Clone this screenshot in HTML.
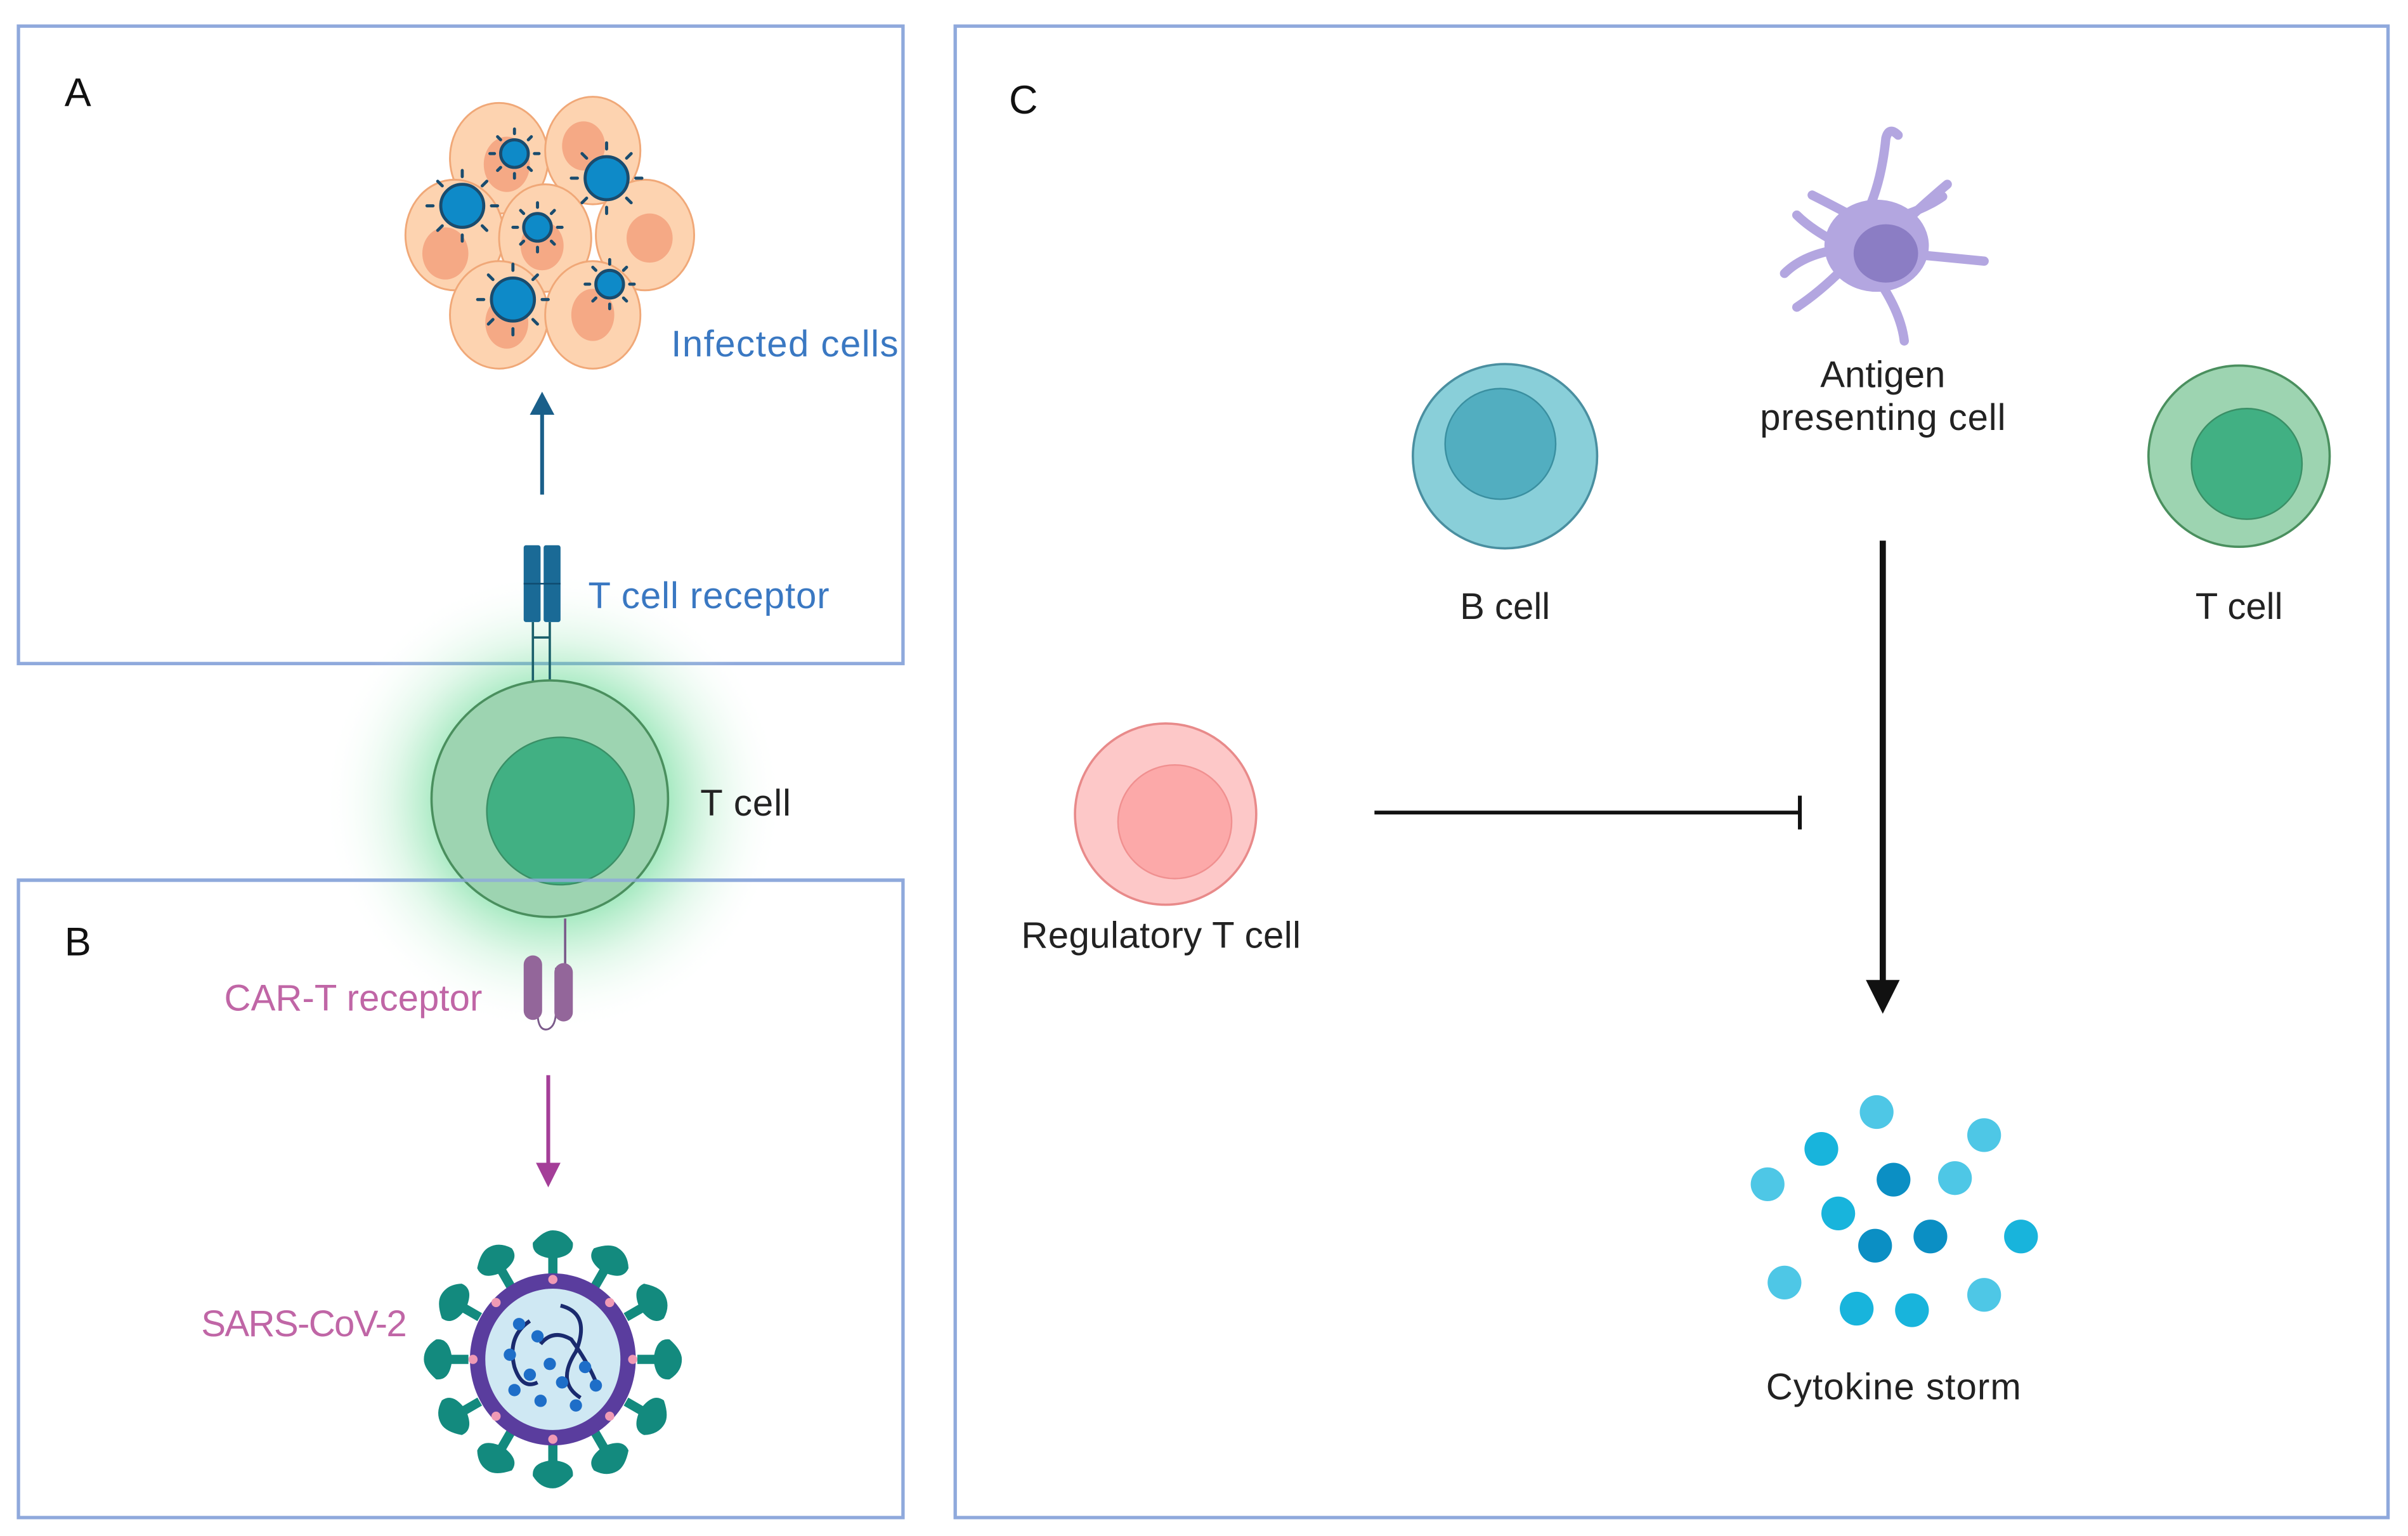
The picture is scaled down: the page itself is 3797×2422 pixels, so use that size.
<!DOCTYPE html>
<html><head><meta charset="utf-8"><style>
html,body{margin:0;padding:0;background:#fff}
svg{display:block}
text{font-family:"Liberation Sans",sans-serif}
</style></head><body>
<svg width="3797" height="2422" viewBox="0 0 1568 1000" preserveAspectRatio="none" xmlns="http://www.w3.org/2000/svg">
<defs>
<radialGradient id="glow" cx="0.5" cy="0.5" r="0.5">
<stop offset="0.45" stop-color="#3fd07a" stop-opacity="0.55"/>
<stop offset="0.7" stop-color="#6fdc98" stop-opacity="0.2"/>
<stop offset="1" stop-color="#ffffff" stop-opacity="0"/>
</radialGradient>
</defs>
<rect width="1568" height="1000" fill="#fff"/>
<rect x="12" y="17" width="576" height="415" fill="none" stroke="#8fa9dc" stroke-width="2.2"/>
<rect x="12" y="573" width="576" height="415" fill="none" stroke="#8fa9dc" stroke-width="2.2"/>
<rect x="622" y="17" width="933" height="971" fill="none" stroke="#8fa9dc" stroke-width="2.2"/>
<text x="42" y="69" font-size="26" fill="#111">A</text>
<text x="42" y="622" font-size="26" fill="#111">B</text>
<text x="657" y="74" font-size="26" fill="#111">C</text>

<g stroke="#f0a878" stroke-width="1.2" fill="#fdd3b0">
<ellipse cx="325" cy="103" rx="32" ry="36"/>
<ellipse cx="386" cy="98" rx="31" ry="35"/>
<ellipse cx="296" cy="153" rx="32" ry="36"/>
<ellipse cx="420" cy="153" rx="32" ry="36"/>
<ellipse cx="355" cy="155" rx="30" ry="35"/>
<ellipse cx="325" cy="205" rx="32" ry="35"/>
<ellipse cx="386" cy="205" rx="31" ry="35"/>
</g>
<g fill="#f5a985">
<ellipse cx="330" cy="107" rx="15" ry="18"/>
<ellipse cx="380" cy="95" rx="14" ry="16"/>
<ellipse cx="290" cy="165" rx="15" ry="17"/>
<ellipse cx="423" cy="155" rx="15" ry="16"/>
<ellipse cx="353" cy="160" rx="14" ry="16"/>
<ellipse cx="330" cy="210" rx="14" ry="17"/>
<ellipse cx="386" cy="205" rx="14" ry="17"/>
</g>
<g fill="#0e8ac8" stroke="#1a4c6e" stroke-width="2">
<circle cx="335" cy="100" r="9"/>
<circle cx="395" cy="116" r="14"/>
<circle cx="301" cy="134" r="14"/>
<circle cx="350" cy="148" r="9"/>
<circle cx="334" cy="195" r="14"/>
<circle cx="397" cy="185" r="9"/>
</g>
<g stroke="#1a4c6e" stroke-width="2" stroke-linecap="round">
<path d="M335 87v-3M335 113v3M322 100h-3M348 100h3M326 91l-2-2M344 109l2 2M344 91l2-2M326 109l-2 2"/>
<path d="M395 97v-4M395 135v4M376 116h-4M414 116h4M382 103l-3-3M408 129l3 3M408 103l3-3M382 129l-3 3"/>
<path d="M301 115v-4M301 153v4M282 134h-4M320 134h4M288 121l-3-3M314 147l3 3M314 121l3-3M288 147l-3 3"/>
<path d="M350 135v-3M350 161v3M337 148h-3M363 148h3M341 139l-2-2M359 157l2 2M359 139l2-2M341 157l-2 2"/>
<path d="M334 176v-4M334 214v4M315 195h-4M353 195h4M321 182l-3-3M347 208l3 3M347 182l3-3M321 208l-3 3"/>
<path d="M397 172v-3M397 198v3M384 185h-3M410 185h3M388 176l-2-2M406 194l2 2M406 176l2-2M388 194l-2 2"/>
</g>
<text x="437" y="232" font-size="24" fill="#3a78c2" textLength="148">Infected cells</text>

<line x1="353" y1="322" x2="353" y2="268" stroke="#1a5f8a" stroke-width="2.5"/>
<polygon points="345,270 361,270 353,255" fill="#1a5f8a"/>

<circle cx="360" cy="522" r="150" fill="url(#glow)"/>
<line x1="347" y1="405" x2="347" y2="448" stroke="#1a5f6a" stroke-width="1.5"/>
<line x1="358" y1="405" x2="358" y2="448" stroke="#1a5f6a" stroke-width="1.5"/>
<line x1="347" y1="415" x2="358" y2="415" stroke="#1a5f6a" stroke-width="1.5"/>
<rect x="341" y="355" width="11" height="50" rx="1.5" fill="#1a6a96"/>
<rect x="354" y="355" width="11" height="50" rx="1.5" fill="#1a6a96"/>
<line x1="341" y1="380" x2="365" y2="380" stroke="#0f4c70" stroke-width="1"/>
<text x="383" y="396" font-size="24" fill="#3a78c2" textLength="157">T cell receptor</text>
<circle cx="358" cy="520" r="77" fill="#9dd4b1" stroke="#4a8f5e" stroke-width="1.5"/>
<circle cx="365" cy="528" r="48" fill="#41b083" stroke="#3a8f66" stroke-width="1"/>
<text x="456" y="531" font-size="24" fill="#222" textLength="59">T cell</text>
<rect x="12" y="572" width="576" height="2.2" fill="#8fa9dc" opacity="0.8"/>

<line x1="368" y1="598" x2="368" y2="628" stroke="#7a5a8a" stroke-width="1.5"/>
<path d="M350 658 Q350 672 357 670 Q362 668 362 658 L362 630" fill="none" stroke="#7a5a8a" stroke-width="1.2"/>
<rect x="341" y="622" width="12" height="42" rx="6" fill="#93669a"/>
<rect x="361" y="627" width="12" height="38" rx="6" fill="#93669a"/>
<text x="146" y="658" font-size="24" fill="#c066a6" textLength="168">CAR-T receptor</text>
<line x1="357" y1="700" x2="357" y2="760" stroke="#a43e98" stroke-width="2.5"/>
<polygon points="349,757 365,757 357,773" fill="#a43e98"/>

<g fill="#138a7e">
<g transform="translate(360,885)">
<g id="sp"><path d="M-3 -55 L-3 -66 Q-14 -68 -13 -76 Q-6 -84 0 -84 Q8 -84 13 -76 Q14 -68 3 -66 L3 -55Z"/></g>
<use href="#sp" transform="rotate(30)"/><use href="#sp" transform="rotate(60)"/><use href="#sp" transform="rotate(90)"/>
<use href="#sp" transform="rotate(120)"/><use href="#sp" transform="rotate(150)"/><use href="#sp" transform="rotate(180)"/>
<use href="#sp" transform="rotate(210)"/><use href="#sp" transform="rotate(240)"/><use href="#sp" transform="rotate(270)"/>
<use href="#sp" transform="rotate(300)"/><use href="#sp" transform="rotate(330)"/>
</g></g>
<ellipse cx="360" cy="885" rx="54" ry="56" fill="#5a3d9e"/>
<ellipse cx="360" cy="885" rx="44" ry="46" fill="#cfe8f3"/>
<g fill="#f09ab5">
<circle cx="360" cy="833" r="3"/><circle cx="360" cy="937" r="3"/><circle cx="308" cy="885" r="3"/><circle cx="412" cy="885" r="3"/>
<circle cx="323" cy="848" r="3"/><circle cx="397" cy="848" r="3"/><circle cx="323" cy="922" r="3"/><circle cx="397" cy="922" r="3"/>
</g>
<g fill="none" stroke="#1a2a6e" stroke-width="2.5">
<path d="M345 860 Q330 870 335 890 Q340 905 350 900 M365 850 Q385 855 375 880 Q362 900 378 910 M352 875 Q360 865 372 872 Q385 890 390 905"/>
</g>
<g fill="#1e6ec8">
<circle cx="338" cy="862" r="4"/><circle cx="350" cy="870" r="4"/><circle cx="332" cy="882" r="4"/><circle cx="345" cy="895" r="4"/>
<circle cx="358" cy="888" r="4"/><circle cx="366" cy="900" r="4"/><circle cx="352" cy="912" r="4"/><circle cx="381" cy="890" r="4"/><circle cx="388" cy="902" r="4"/><circle cx="375" cy="915" r="4"/><circle cx="335" cy="905" r="4"/>
</g>
<text x="131" y="870" font-size="24" fill="#c066a6" textLength="134">SARS-CoV-2</text>

<g stroke="#b3a6e0" stroke-width="6" stroke-linecap="round" fill="none">
<path d="M1215 140 Q1225 120 1228 90 Q1230 82 1236 88"/>
<path d="M1235 150 Q1250 135 1268 120"/>
<path d="M1200 160 Q1180 150 1170 140"/>
<path d="M1200 162 Q1175 165 1162 178"/>
<path d="M1200 175 Q1185 190 1170 200"/>
<path d="M1225 185 Q1238 205 1240 222"/>
<path d="M1240 165 Q1270 168 1292 170"/>
<path d="M1240 140 Q1255 135 1265 128"/>
<path d="M1205 140 Q1190 132 1180 127"/>
</g>
<ellipse cx="1222" cy="160" rx="34" ry="30" fill="#b3a6e0"/>
<ellipse cx="1228" cy="165" rx="21" ry="19" fill="#8b7dc4"/>
<text x="1226" y="252" font-size="24" fill="#222" text-anchor="middle">Antigen</text>
<text x="1226" y="280" font-size="24" fill="#222" text-anchor="middle" textLength="160">presenting cell</text>

<circle cx="980" cy="297" r="60" fill="#89cfd9" stroke="#4a8fa0" stroke-width="1.5"/>
<circle cx="977" cy="289" r="36" fill="#52aec0" stroke="#3a8fa0" stroke-width="1"/>
<text x="980" y="403" font-size="24" fill="#222" text-anchor="middle">B cell</text>

<circle cx="1458" cy="297" r="59" fill="#9dd4b1" stroke="#4a8f5e" stroke-width="1.5"/>
<circle cx="1463" cy="302" r="36" fill="#41b083" stroke="#3a8f66" stroke-width="1"/>
<text x="1458" y="403" font-size="24" fill="#222" text-anchor="middle">T cell</text>

<circle cx="759" cy="530" r="59" fill="#fdc8c8" stroke="#e88a8a" stroke-width="1.5"/>
<circle cx="765" cy="535" r="37" fill="#fca9a9" stroke="#f09090" stroke-width="1"/>
<text x="756" y="617" font-size="24" fill="#222" text-anchor="middle" textLength="182">Regulatory T cell</text>

<line x1="895" y1="529" x2="1172" y2="529" stroke="#111" stroke-width="2.5"/>
<line x1="1172" y1="518" x2="1172" y2="540" stroke="#111" stroke-width="2.5"/>

<line x1="1226" y1="352" x2="1226" y2="642" stroke="#111" stroke-width="4"/>
<polygon points="1215,638 1237,638 1226,660" fill="#111"/>

<g fill="#4ec7e6">
<circle cx="1222" cy="724" r="11"/><circle cx="1292" cy="739" r="11"/><circle cx="1151" cy="771" r="11"/>
<circle cx="1273" cy="767" r="11"/><circle cx="1162" cy="835" r="11"/><circle cx="1292" cy="843" r="11"/>
</g>
<g fill="#18b4dc">
<circle cx="1186" cy="748" r="11"/><circle cx="1197" cy="790" r="11"/><circle cx="1316" cy="805" r="11"/>
<circle cx="1209" cy="852" r="11"/><circle cx="1245" cy="853" r="11"/>
</g>
<g fill="#0b8fc4">
<circle cx="1233" cy="768" r="11"/><circle cx="1221" cy="811" r="11"/><circle cx="1257" cy="805" r="11"/>
</g>
<text x="1233" y="911" font-size="24" fill="#222" text-anchor="middle" textLength="166">Cytokine storm</text>
</svg>
</body></html>
